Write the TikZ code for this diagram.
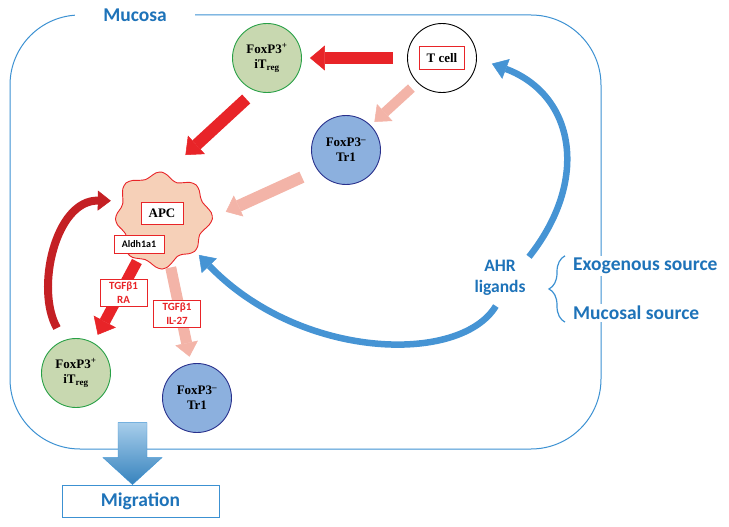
\documentclass[tikz,border=0pt]{standalone}
\usepackage{fontspec}
\setmainfont{Liberation Serif}
\newfontfamily\calib{Carlito}
\usepackage{xcolor}
\usepackage{tikz}
\usetikzlibrary{arrows.meta,decorations.pathreplacing}
\definecolor{myred}{RGB}{232,36,40}
\definecolor{mydarkred}{RGB}{196,32,36}
\definecolor{mypink}{RGB}{243,180,168}
\definecolor{myblue}{RGB}{30,115,185}
\definecolor{myframe}{RGB}{60,145,210}
\definecolor{mycurve}{RGB}{70,148,212}
\definecolor{tregfill}{RGB}{200,216,176}
\definecolor{tregline}{RGB}{40,160,70}
\definecolor{tronefill}{RGB}{140,176,222}
\definecolor{troneline}{RGB}{40,48,140}
\definecolor{apcfill}{RGB}{246,208,184}
\tikzstyle{cell} = [circle,minimum size=69pt,inner sep=0pt,line width=0.9pt,font=\bfseries\fontsize{13}{15}\selectfont,align=center]
\tikzstyle{treg} = [cell,draw=tregline,fill=tregfill]
\tikzstyle{trone} = [cell,draw=troneline,fill=tronefill]
\tikzstyle{redbox} = [draw=myred,fill=white,line width=0.9pt,inner sep=1pt]
\tikzstyle{factor} = [redbox,text=myred,font=\calib\bfseries\fontsize{11}{13.5}\selectfont,align=center,minimum width=47pt,minimum height=27pt]
\tikzstyle{bluetext} = [text=myblue,font=\calib\bfseries\fontsize{19.5}{22}\selectfont]
\tikzstyle{redarrow} = [myred,line width=12pt,-{Triangle[width=25pt,length=15pt,line width=0.5pt]}]
\tikzstyle{pinkarrow} = [mypink,line width=11pt,-{Triangle[width=23pt,length=14pt,line width=0.5pt]}]
\tikzstyle{bluecurve} = [mycurve,line width=6.5pt,-{Triangle[width=21pt,length=15pt,line width=0.5pt]}]

\begin{document}
\begin{tikzpicture}[x=1pt,y=-1pt]
  \useasboundingbox (0,0) rectangle (729,527);
  % mucosa frame
  \draw[myframe,line width=1pt,rounded corners=70pt] (10,15) rectangle (601,449);
  \node[bluetext,fill=white,inner xsep=28pt,inner ysep=2pt] (mucosa) at (135,15) {Mucosa};

  % cells
  \node[cell,draw=black] (tcell) at (442,58) {};
  \node[redbox,font=\bfseries\fontsize{13}{13}\selectfont,minimum width=45pt,minimum height=23pt] (tcelltxt) at (tcell) {T cell};
  \node[treg] (itregtop) at (267,58) {FoxP3\textsuperscript{+}\\iT\textsubscript{reg}};
  \node[trone] (troneup) at (346,150) {FoxP3\textsuperscript{–}\\Tr1};
  \node[treg] (itregdown) at (76,373) {FoxP3\textsuperscript{+}\\iT\textsubscript{reg}};
  \node[trone] (tronedown) at (197,398) {FoxP3\textsuperscript{–}\\Tr1};

  % apc
  \node[circle,minimum size=100pt,inner sep=0pt] (apc) at (162,218) {};
  \draw[myred,fill=apcfill,line width=0.9pt] plot[smooth cycle,variable=\t,samples at={0,7.5,...,352.5}]
    ({162+(45+3.5*cos(8*\t+10)+2.5*cos(3*\t+40))*cos(\t)},{219+(45+3.5*cos(8*\t+10)+2.5*cos(3*\t+40))*sin(\t)});
  \node[redbox,font=\bfseries\fontsize{13}{13}\selectfont,minimum width=42pt,minimum height=22pt] (apctxt) at (162,213) {APC};
  \node[redbox,font=\calib\bfseries\fontsize{10}{10}\selectfont,minimum width=50pt,minimum height=18pt] (aldh) at (139,244) {Aldh1a1};

  % straight arrows
  \draw[redarrow,shorten <=14pt,shorten >=8pt] (tcell) -- (itregtop);
  \draw[redarrow,shorten <=12pt,shorten >=20pt] (itregtop.250) -- (apc.80);
  \draw[pinkarrow,line width=10pt,shorten <=8pt,shorten >=5pt] (tcell.225) -- (troneup.45);
  \draw[pinkarrow,line width=12pt,shorten <=17pt,shorten >=15pt] (troneup.215) -- (apc.0);
  \draw[redarrow,line width=11pt,shorten >=9pt] (apc.240) -- (itregdown.60);
  \draw[pinkarrow,shorten >=7pt] (apc.280) -- (tronedown.100);

  % curved arrows
  \draw[mydarkred,line width=8pt,-{Triangle[width=20pt,length=13pt,line width=0.5pt]},shorten <=14pt,shorten >=4pt]
    (itregdown.110) .. controls (35,290) and (55,200) .. (apc.160);
  \node[bluetext,font=\calib\bfseries\fontsize{17.5}{21}\selectfont,align=center] (ahr) at (500,278) {AHR\\ligands};
  \draw[bluecurve,shorten >=16pt] (ahr.north east) .. controls (590,180) and (575,95) .. (tcell.east);
  \draw[bluecurve,shorten <=8pt,shorten >=2pt] (ahr.south) .. controls (460,365) and (300,360) .. (apc.-45);

  % factors
  \node[factor] (tgfra) at (123.5,292.5) {TGFβ1\\RA};
  \node[factor] (tgfil) at (177,313.5) {TGFβ1\\IL-27};

  % sources
  \node[bluetext,fill=white,anchor=west,inner sep=2pt] (exosrc) at (571,266) {Exogenous source};
  \node[bluetext,fill=white,anchor=west,inner sep=2pt] (mucsrc) at (571,313) {Mucosal source};
  \draw[myframe,line width=1.2pt,decorate,decoration={brace,amplitude=16pt}]
    ([xshift=-6pt]mucsrc.south west) -- ([xshift=-6pt]exosrc.north west);

  % migration
  \node[draw=myframe,line width=0.8pt,bluetext,minimum width=157pt,minimum height=32pt,inner sep=0pt] (migr) at (140.5,501) {Migration};
  \coordinate (migtip) at ([xshift=-8pt]migr.north);
  \shadedraw[draw=myframe,top color=myframe!45!white,bottom color=myframe!90!black] (migtip) -- ++(-29.5,-27) -- ++(15,0) -- ++(0,-35)
    -- ++(29,0) -- ++(0,35) -- ++(15,0) -- cycle;
\end{tikzpicture}
\end{document}
